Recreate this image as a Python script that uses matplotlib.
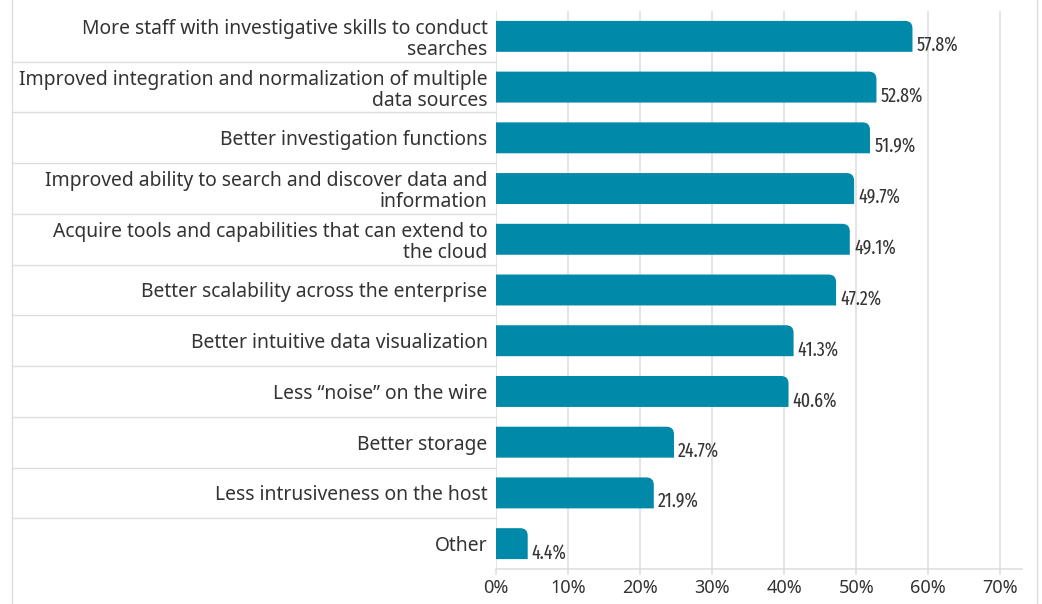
import matplotlib
matplotlib.use("Agg")
import matplotlib.pyplot as plt
from matplotlib.path import Path
from matplotlib.patches import PathPatch
from matplotlib.lines import Line2D
from matplotlib.transforms import IdentityTransform, blended_transform_factory
from matplotlib import font_manager as fm

categories = [
    "More staff with investigative skills to conduct\nsearches",
    "Improved integration and normalization of multiple\ndata sources",
    "Better investigation functions",
    "Improved ability to search and discover data and\ninformation",
    "Acquire tools and capabilities that can extend to\nthe cloud",
    "Better scalability across the enterprise",
    "Better intuitive data visualization",
    "Less \u201cnoise\u201d on the wire",
    "Better storage",
    "Less intrusiveness on the host",
    "Other",
]
values = [57.8, 52.8, 51.9, 49.7, 49.1, 47.2, 41.3, 40.6, 24.7, 21.9, 4.4]
xticks = [0, 10, 20, 30, 40, 50, 60, 70]
xtick_labels = ["0%", "10%", "20%", "30%", "40%", "50%", "60%", "70%"]

BAR = "#0089A8"
GRID = "#dddddd"
TXT = "#333333"
LABEL_FONT = "Noto Sans"


def _is_regular(f):
    return f.style == "normal" and f.weight in (400, "normal", "regular")


def _pick(keys):
    for key in keys:
        for f in fm.fontManager.ttflist:
            fn = f.fname.replace("-", "").replace("_", "")
            if key in fn and _is_regular(f) and "Italic" not in fn and "Light" not in fn \
                    and "Bold" not in fn and "Medium" not in fn and "Thin" not in fn \
                    and "Black" not in fn:
                return f.fname
    return None


cond_file = _pick(["ExtraCondensed", "Condensed", "Narrow"])
VALUE_SIZE = 14 if cond_file and "ExtraCondensed" in cond_file else 12.5

W, H = 1042, 604
fig = plt.figure(figsize=(W / 100, H / 100), dpi=100)
ax = fig.add_axes([496 / W, 1 - 569 / H, (1022 - 496) / W, (569 - 11) / H])

n = len(categories)
ypos = list(range(n))
ax.set_ylim(n - 0.5, -0.5)
ax.set_xlim(0, 73)

bars = ax.barh(ypos, values, height=0.61, color=BAR, zorder=3)

ax.set_xticks(xticks)
ax.set_xticklabels(xtick_labels, fontfamily=LABEL_FONT, fontsize=13, color=TXT)
ax.set_yticks(ypos)
ax.set_yticklabels(categories, fontfamily=LABEL_FONT, fontsize=13.9, color=TXT,
                   multialignment="right", linespacing=1.08)
ax.tick_params(axis="y", length=0, pad=6)
ax.tick_params(axis="x", length=4, width=1.1, color=GRID, pad=3)
ax.grid(axis="x", color=GRID, linewidth=1.1, zorder=0)
ax.set_axisbelow(True)
for s in ["top", "right", "left"]:
    ax.spines[s].set_visible(False)
ax.spines["bottom"].set_color(GRID)
ax.spines["bottom"].set_linewidth(1.1)

# rounded top-right corner bars
r = 7.5
for b in bars:
    x0, y0 = b.get_x(), b.get_y()
    x1, y1 = x0 + b.get_width(), y0 + b.get_height()
    (dx0, dya), (dx1, dyb) = ax.transData.transform([(x0, y0), (x1, y1)])
    bot, top = min(dya, dyb), max(dya, dyb)
    rr = min(r, (dx1 - dx0), (top - bot))
    verts = [(dx0, bot), (dx1, bot), (dx1, top - rr), (dx1, top), (dx1 - rr, top),
             (dx0, top), (dx0, bot)]
    codes = [Path.MOVETO, Path.LINETO, Path.LINETO, Path.CURVE3, Path.CURVE3,
             Path.LINETO, Path.CLOSEPOLY]
    b.set_visible(False)
    p = PathPatch(Path(verts, codes), facecolor=BAR, edgecolor="none",
                  transform=IdentityTransform(), zorder=3)
    ax.add_artist(p)

for i, v in enumerate(values):
    kw = dict(fontproperties=fm.FontProperties(fname=cond_file, size=VALUE_SIZE)) if cond_file \
        else dict(fontfamily="DejaVu Sans", fontstretch="condensed", fontsize=12)
    ax.annotate(f"{v}%", xy=(v, i), xytext=(3, -6.5), textcoords="offset points",
                ha="left", va="center", color=TXT, **kw)

# separators in the label area
bt = blended_transform_factory(fig.transFigure, ax.transData)
for k in range(n - 1):
    fig.add_artist(Line2D([12 / W, 496 / W], [k + 0.5, k + 0.5], transform=bt,
                          color=GRID, linewidth=1.0))

# page borders
fig.add_artist(Line2D([12 / W, 12 / W], [0, 1], transform=fig.transFigure,
                      color=GRID, linewidth=1.0))
fig.add_artist(Line2D([1037 / W, 1037 / W], [0, 1], transform=fig.transFigure,
                      color=GRID, linewidth=1.0))

fig.savefig("out.png", dpi=100)
